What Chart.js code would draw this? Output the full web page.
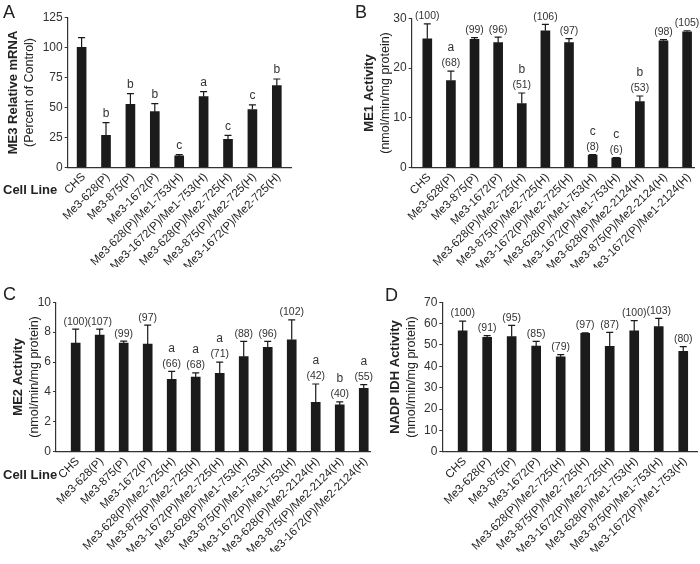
<!DOCTYPE html>
<html><head><meta charset="utf-8">
<script src="https://cdn.jsdelivr.net/npm/chart.js@4"></script>
<style>
html,body{margin:0;padding:0;background:#fff;}
#wrap{position:relative;width:700px;height:564px;overflow:hidden;}
canvas{position:absolute;left:0;top:0;}
</style></head><body>
<div id="wrap">
<canvas id="cA" width="700" height="564"></canvas>
<canvas id="cB" width="700" height="564"></canvas>
<canvas id="cC" width="700" height="564"></canvas>
<canvas id="cD" width="700" height="564"></canvas>
</div>
<script>
// ---- Panel A: ME3 relative mRNA (% of control)
const catsA = ['CHS','Me3-628(P)','Me3-875(P)','Me3-1672(P)','Me3-628(P)/Me1-753(H)','Me3-1672(P)/Me1-753(H)','Me3-628(P)/Me2-725(H)','Me3-875(P)/Me2-725(H)','Me3-1672(P)/Me2-725(H)'];
const meanA = [100.2, 26.7, 52.6, 46.5, 9.5, 59.0, 23.4, 48.2, 68.2];
const sdA   = [8.1, 10.6, 8.9, 6.7, 1.1, 4.2, 3.3, 3.9, 5.6];
const letA  = ['', 'b', 'b', 'b', 'c', 'a', 'c', 'c', 'b'];
const ticksA = [0, 25, 50, 75, 100, 125];

// ---- Panel B: ME1 activity
const catsB = ['CHS','Me3-628(P)','Me3-875(P)','Me3-1672(P)','Me3-628(P)/Me2-725(H)','Me3-875(P)/Me2-725(H)','Me3-1672(P)/Me2-725(H)','Me3-628(P)/Me1-753(H)','Me3-1672(P)/Me1-753(H)','Me3-628(P)/Me2-2124(H)','Me3-875(P)/Me2-2124(H)','Me3-1672(P)/Me1-2124(H)'];
const meanB = [25.9, 17.5, 25.8, 25.1, 12.9, 27.5, 25.1, 2.55, 1.94, 13.3, 25.5, 27.3];
const sdB   = [3.0, 1.9, 0.3, 1.1, 2.1, 1.3, 0.8, 0.1, 0.1, 1.1, 0.2, 0.2];
const pctB  = [100, 68, 99, 96, 51, 106, 97, 8, 6, 53, 98, 105];
const letB  = ['', 'a', '', '', 'b', '', '', 'c', 'c', 'b', '', ''];
const ticksB = [0, 10, 20, 30];

// ---- Panel C: ME2 activity
const catsC = ['CHS','Me3-628(P)','Me3-875(P)','Me3-1672(P)','Me3-628(P)/Me2-725(H)','Me3-875(P)/Me2-725(H)','Me3-1672(P)/Me2-725(H)','Me3-628(P)/Me1-753(H)','Me3-875(P)/Me1-753(H)','Me3-1672(P)/Me1-753(H)','Me3-628(P)/Me2-2124(H)','Me3-875(P)/Me2-2124(H)','Me3-1672(P)/Me2-2124(H)'];
const meanC = [7.27, 7.8, 7.27, 7.2, 4.84, 5.0, 5.24, 6.36, 6.98, 7.49, 3.31, 3.13, 4.24];
const sdC   = [0.93, 0.4, 0.13, 1.27, 0.54, 0.27, 0.76, 1.02, 0.4, 1.33, 1.22, 0.2, 0.25];
const pctC  = [100, 107, 99, 97, 66, 68, 71, 88, 96, 102, 42, 40, 55];
const letC  = ['', '', '', '', 'a', 'a', 'a', '', '', '', 'a', 'b', 'a'];
const ticksC = [0, 2, 4, 6, 8, 10];

// ---- Panel D: NADP IDH activity
const catsD = ['CHS','Me3-628(P)','Me3-875(P)','Me3-1672(P)','Me3-628(P)/Me2-725(H)','Me3-875(P)/Me2-725(H)','Me3-1672(P)/Me2-725(H)','Me3-628(P)/Me1-753(H)','Me3-875(P)/Me1-753(H)','Me3-1672(P)/Me1-753(H)'];
const meanD = [56.6, 53.6, 53.9, 49.5, 44.4, 55.5, 49.4, 56.6, 58.6, 47.0];
const sdD   = [4.6, 0.8, 5.3, 2.2, 1.1, 0.2, 6.5, 4.8, 3.9, 2.2];
const pctD  = [100, 91, 95, 85, 79, 97, 87, 100, 103, 80];
const letD  = ['', '', '', '', '', '', '', '', '', ''];
const ticksD = [0, 10, 20, 30, 40, 50, 60, 70];

const FONT = "'Liberation Sans', Arial, Helvetica, sans-serif";
Chart.defaults.font.family = FONT;
Chart.defaults.color = '#333';

const YW = 40, XH = 100;
const PANELS = {
  cA: {cats:catsA, mean:meanA, sd:sdA, pct:null, lett:letA, ticks:ticksA, xmin:-0.57, xmax:8.61,
       area:[67.7,291.7,17.7,167.3], letter:'A', lpos:[3,13], t1:'ME3 Relative mRNA', t2:'(Percent of Control)', tx:[13,30], cell:[3,190]},
  cB: {cats:catsB, mean:meanB, sd:sdB, pct:pctB, lett:letB, ticks:ticksB, xmin:-0.66, xmax:11.33,
       area:[411.7,695,18.3,167.7], letter:'B', lpos:[355,13], t1:'ME1 Activity', t2:'(nmol/min/mg protein)', tx:[369,386], cell:null},
  cC: {cats:catsC, mean:meanC, sd:sdC, pct:pctC, lett:letC, ticks:ticksC, xmin:-0.82, xmax:12.29,
       area:[56,370.7,302.3,451.7], letter:'C', lpos:[3,295], t1:'ME2 Activity', t2:'(nmol/min/mg protein)', tx:[18,35], cell:[3,475]},
  cD: {cats:catsD, mean:meanD, sd:sdD, pct:pctD, lett:letD, ticks:ticksD, xmin:-0.83, xmax:9.59,
       area:[442.3,697.7,302.3,451.7], letter:'D', lpos:[385,296], t1:'NADP IDH Activity', t2:'(nmol/min/mg protein)', tx:[395,412], cell:null}
};

const deco = {
  id: 'deco',
  afterDatasetsDraw(chart) {
    const p = PANELS[chart.canvas.id];
    const ctx = chart.ctx;
    const ys = chart.scales.y;
    const meta = chart.getDatasetMeta(0);
    ctx.save();
    ctx.strokeStyle = '#1a1a1a';
    ctx.lineWidth = 1.2;
    ctx.fillStyle = '#333';
    ctx.textAlign = 'center';
    ctx.textBaseline = 'middle';
    meta.data.forEach((bar, i) => {
      const x = bar.x;
      const yTop = ys.getPixelForValue(p.mean[i] + p.sd[i]);
      ctx.beginPath();
      ctx.moveTo(x, bar.y); ctx.lineTo(x, yTop);
      ctx.moveTo(x - 3.5, yTop); ctx.lineTo(x + 3.5, yTop);
      ctx.stroke();
      let yy = yTop;
      if (p.pct) {
        ctx.font = '10.5px ' + FONT;
        yy = yTop - 7.5;
        ctx.fillText('(' + p.pct[i] + ')', x, yy);
        if (p.lett[i]) { ctx.font = '12px ' + FONT; ctx.fillText(p.lett[i], x, yy - 15.5); }
      } else if (p.lett[i]) {
        ctx.font = '12px ' + FONT;
        ctx.fillText(p.lett[i], x, yTop - 9);
      }
    });
    ctx.restore();
  },
  afterDraw(chart) {
    const p = PANELS[chart.canvas.id];
    const ctx = chart.ctx;
    const ca = chart.chartArea;
    const cy = (ca.top + ca.bottom) / 2;
    ctx.save();
    ctx.fillStyle = '#222';
    ctx.textAlign = 'center';
    ctx.textBaseline = 'middle';
    ctx.save();
    ctx.translate(p.tx[0], cy); ctx.rotate(-Math.PI / 2);
    ctx.font = 'bold 13px ' + FONT; ctx.fillText(p.t1, 0, 0);
    ctx.restore();
    ctx.save();
    ctx.translate(p.tx[1], cy); ctx.rotate(-Math.PI / 2);
    ctx.font = '12.5px ' + FONT; ctx.fillText(p.t2, 0, 0);
    ctx.restore();
    ctx.textAlign = 'left';
    ctx.font = '18px ' + FONT;
    ctx.fillText(p.letter, p.lpos[0], p.lpos[1]);
    if (p.cell) {
      ctx.font = 'bold 13px ' + FONT;
      ctx.fillText('Cell Line', p.cell[0], p.cell[1]);
    }
    ctx.restore();
  }
};

Object.keys(PANELS).forEach(id => {
  const p = PANELS[id];
  new Chart(document.getElementById(id), {
    type: 'bar',
    data: { datasets: [{
      data: p.cats.map((c, i) => ({x: i, y: p.mean[i]})),
      backgroundColor: '#1b1b1b', borderWidth: 0, barThickness: 9
    }]},
    options: {
      responsive: false, animation: false, devicePixelRatio: 1,
      layout: { padding: { left: p.area[0] - YW, right: 700 - p.area[1], top: p.area[2], bottom: 564 - p.area[3] - XH } },
      plugins: { legend: {display: false}, tooltip: {enabled: false}, title: {display: false} },
      scales: {
        x: {
          type: 'linear', min: p.xmin, max: p.xmax, offset: false,
          grid: { display: false, drawTicks: false },
          border: { display: true, color: '#333', width: 1.2 },
          ticks: {
            stepSize: 1, autoSkip: false, includeBounds: false, maxRotation: 45, minRotation: 45,
            padding: 3, labelOffset: 2, color: '#222', font: {size: 11.5},
            callback: function(v) { const i = Math.round(v); return (Math.abs(v - i) < 1e-6 && p.cats[i] !== undefined) ? p.cats[i] : ''; }
          },
          afterFit: s => { s.height = XH; }
        },
        y: {
          min: p.ticks[0], max: p.ticks[p.ticks.length - 1],
          grid: { display: true, drawOnChartArea: false, drawTicks: true, tickLength: 3, color: '#333' },
          border: { color: '#333', width: 1.2 },
          ticks: { stepSize: p.ticks[1] - p.ticks[0], padding: 2, color: '#333', font: {size: 12} },
          afterFit: s => { s.width = YW; }
        }
      }
    },
    plugins: [deco]
  });
});
</script>
</body></html>
